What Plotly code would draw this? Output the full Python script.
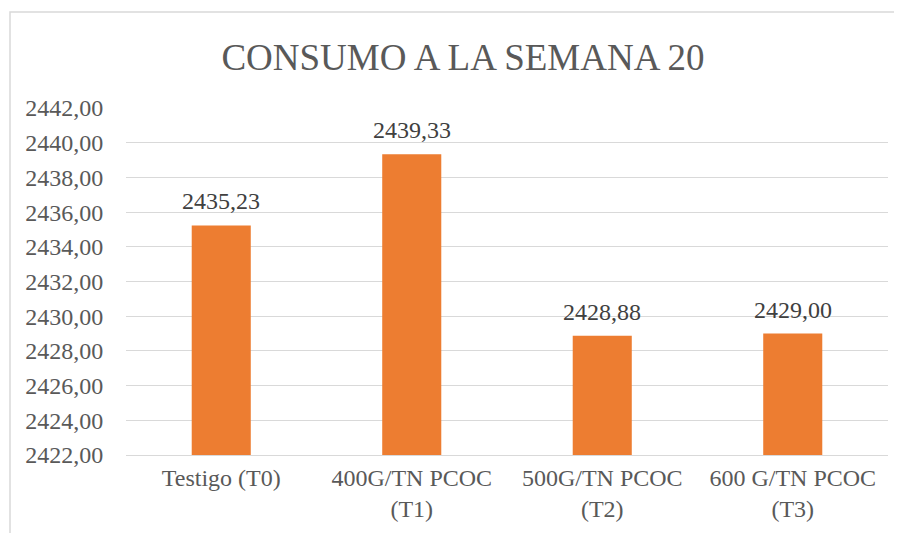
import plotly.graph_objects as go

categories = ["Testigo (T0)", "400G/TN PCOC<br>(T1)", "500G/TN PCOC<br>(T2)", "600 G/TN PCOC<br>(T3)"]
values = [2435.23, 2439.33, 2428.88, 2429.00]
title_text = "CONSUMO A LA SEMANA 20"

FONT = "Liberation Serif"
OFF = 8  # page body margin
W, H = 902 - OFF, 533 - OFF
L, R, T, B = 126 - OFF, 14, 108 - OFF, 78
pw, ph = W - L - R, H - T - B

def px_x(p):
    return (p - OFF - L) / pw

def px_y(p):
    return (H - B - (p - OFF)) / ph

fig = go.Figure()
fig.add_trace(go.Bar(
    x=categories, y=values,
    marker=dict(color="#ED7D31", line=dict(width=0)),
    hovertemplate="%{x}: %{y:.2f}<extra></extra>",
))

for c, v in zip(categories, values):
    fig.add_annotation(x=c, y=v, xref="x", yref="y", text=f"{v:.2f}".replace(".", ","),
                       showarrow=False, yanchor="bottom", yshift=9,
                       font=dict(family=FONT, size=24, color="#404040"))

fig.update_layout(
    width=W, height=H,
    margin=dict(l=L, r=R, t=T, b=B, autoexpand=False),
    paper_bgcolor="white", plot_bgcolor="white",
    separators=",.",
    bargap=0.69,
    showlegend=False,
    font=dict(family=FONT, size=24, color="#595959"),
    title=dict(text=title_text, x=px_x(463), xanchor="center", xref="paper",
               y=1 - (57 - OFF) / H, yanchor="middle",
               font=dict(family=FONT, size=37, color="#595959")),
    xaxis=dict(showgrid=False, showline=True, linecolor="#d9d9d9", linewidth=1,
               ticks="outside", ticklen=1, tickcolor="rgba(0,0,0,0)",
               tickfont=dict(family=FONT, size=24, color="#595959")),
    yaxis=dict(range=[2422, 2442], dtick=2, tick0=2422, tickformat=".2f",
               showgrid=True, gridcolor="#d9d9d9", gridwidth=1, zeroline=False,
               ticks="outside", ticklen=17, tickcolor="rgba(0,0,0,0)",
               tickfont=dict(family=FONT, size=24, color="#595959")),
    shapes=[dict(type="rect", xref="paper", yref="paper",
                 x0=px_x(10), x1=px_x(910), y0=px_y(545), y1=px_y(12),
                 line=dict(color="#d9d9d9", width=1.5), fillcolor="rgba(0,0,0,0)", layer="below")],
)

fig.write_html("out.html")
